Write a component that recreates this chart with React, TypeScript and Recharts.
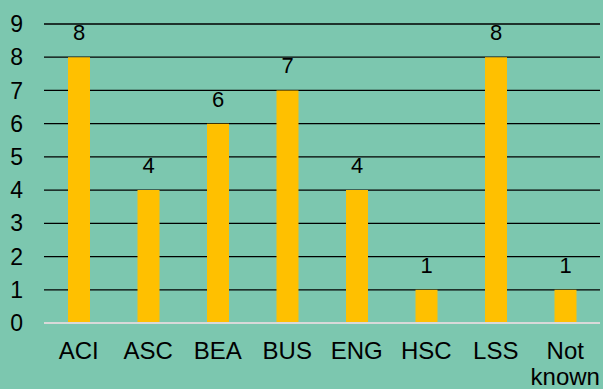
import { BarChart, Bar, XAxis, YAxis, CartesianGrid, LabelList } from "recharts";

const categories = ["ACI", "ASC", "BEA", "BUS", "ENG", "HSC", "LSS", "Not known"];
const counts = [8, 4, 6, 7, 4, 1, 8, 1];
const yTicks = [0, 1, 2, 3, 4, 5, 6, 7, 8, 9];

const data = categories.map((name, i) => ({ name, value: counts[i] }));

const FONT = "'Liberation Sans', Arial, sans-serif";

// category labels, multi-word ones go on two lines
function CategoryTick(props: any) {
  const { x, y, payload } = props;
  const lines = String(payload.value).split(" ");
  return (
    <text x={x} y={y} textAnchor="middle" fill="#000" fontSize={24} fontFamily={FONT}>
      {lines.map((l, i) => (
        <tspan key={i} x={x} dy={i === 0 ? "0.71em" : 26}>
          {l}
        </tspan>
      ))}
    </text>
  );
}

export default function App() {
  return (
    <div style={{ position: "fixed", left: 0, top: 0, width: 603, height: 389, background: "#7CC7AF" }}>
      <BarChart
        width={603}
        height={389}
        data={data}
        margin={{ top: 24, right: 3, bottom: 0, left: 0 }}
        barCategoryGap={24}
      >
        <CartesianGrid vertical={false} stroke="#000" strokeWidth={1.3} />
        <XAxis
          dataKey="name"
          height={66}
          tickSize={0}
          tickMargin={19}
          tick={<CategoryTick />}
          axisLine={{ stroke: "#d9d9d9", strokeWidth: 2 }}
          interval={0}
        />
        <YAxis
          width={44}
          domain={[0, 9]}
          ticks={yTicks}
          interval={0}
          axisLine={false}
          tickLine={false}
          tickSize={0}
          tickMargin={21}
          tick={{ fill: "#000", fontSize: 23, fontFamily: FONT }}
        />
        <Bar dataKey="value" fill="#FFC000" isAnimationActive={false}>
          <LabelList dataKey="value" position="top" offset={17} fill="#000" fontSize={22} fontFamily={FONT} />
        </Bar>
      </BarChart>
    </div>
  );
}
